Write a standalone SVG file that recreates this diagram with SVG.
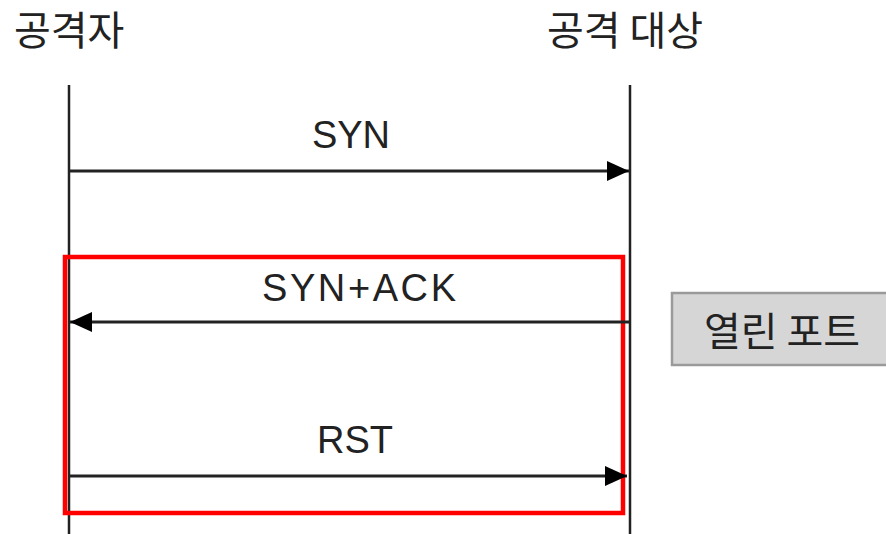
<svg xmlns="http://www.w3.org/2000/svg" width="886" height="534" viewBox="0 0 886 534">
<style>
.t{font-family:"Noto Sans CJK KR","Liberation Sans",sans-serif;font-size:40px;fill:#222}
.l{font-family:"Liberation Sans",Arial,sans-serif;font-size:38px;fill:#222;text-anchor:middle}
.life{stroke:#222;stroke-width:2.5;fill:none}
.msg{stroke:#222;stroke-width:3;fill:none}
</style>
<defs>
<marker id="ah" markerWidth="22" markerHeight="20" refX="22" refY="10" orient="auto" markerUnits="userSpaceOnUse">
<path d="M0,0 L22,10 L0,20 Z" fill="#000"/>
</marker>
</defs>
<rect width="886" height="534" fill="#fff"/>
<g id="attacker">
<text class="t" x="14" y="45">공격자</text>
<line class="life" x1="69" y1="85" x2="69" y2="534"/>
</g>
<g id="target">
<text class="t" x="547" y="45">공격 대상</text>
<line class="life" x1="630" y1="85" x2="630" y2="534"/>
</g>
<g id="open-port">
<rect x="672" y="293" width="220" height="72" fill="#d6d6d6" stroke="#9a9a9a" stroke-width="2.5"/>
<text class="t" x="704" y="346">열린 포트</text>
</g>
<g id="highlight">
<rect x="65" y="257" width="558" height="256" fill="none" stroke="#ff0000" stroke-width="4.5"/>
</g>
<g id="connectors">
<line class="msg" x1="69" y1="171" x2="629" y2="171" marker-end="url(#ah)"/>
<text class="l" x="351" y="148">SYN</text>
<line class="msg" x1="630" y1="322" x2="70" y2="322" marker-end="url(#ah)"/>
<text class="l" x="359" y="301" textLength="194" lengthAdjust="spacing">SYN+ACK</text>
<line class="msg" x1="69" y1="476" x2="627" y2="476" marker-end="url(#ah)"/>
<text class="l" x="355" y="453">RST</text>
</g>
</svg>
